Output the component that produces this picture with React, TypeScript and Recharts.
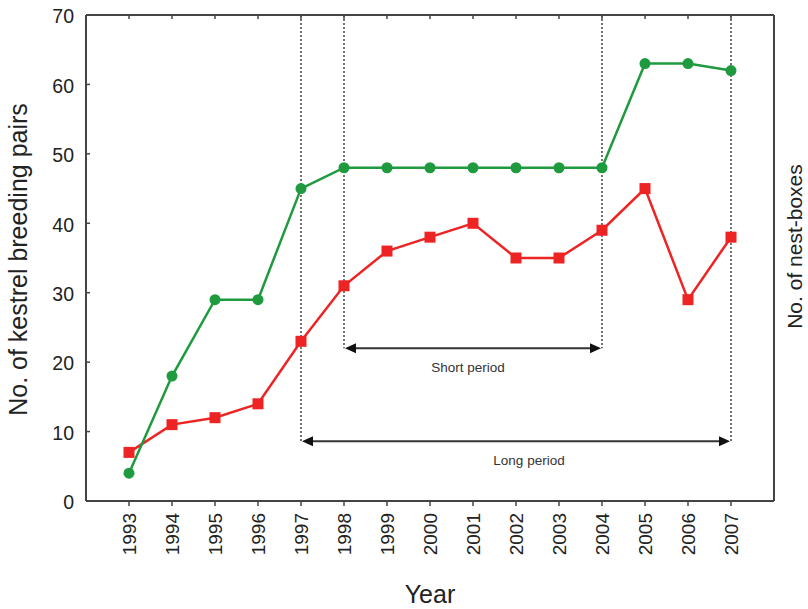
import React from 'react';
import { LineChart, Line, XAxis, YAxis, ReferenceLine } from 'recharts';

const years = [1993, 1994, 1995, 1996, 1997, 1998, 1999, 2000, 2001, 2002, 2003, 2004, 2005, 2006, 2007];
const nestBoxes = [4, 18, 29, 29, 45, 48, 48, 48, 48, 48, 48, 48, 63, 63, 62];
const breedingPairs = [7, 11, 12, 14, 23, 31, 36, 38, 40, 35, 35, 39, 45, 29, 38];
const yTicks = [0, 10, 20, 30, 40, 50, 60, 70];
const xDomain = [1992, 2008];
const yDomain = [0, 70];

const periods = [
  { name: 'Short period', from: 1998, to: 2004, level: 22.0 },
  { name: 'Long period', from: 1997, to: 2007, level: 8.6 },
];

const labelShift: Record<string, number> = { 'Short period': -5, 'Long period': 13 };

const data = years.map((y, i) => ({ year: y, nest: nestBoxes[i], pairs: breedingPairs[i] }));

const FONT = 'Liberation Sans, Arial, Helvetica, sans-serif';
const AXIS = '#444';
const TXT = '#222';
const GREEN = '#1f9a3e';
const RED = '#ee2424';

const LeftTick = (p: any) => (
  <g>
    <line x1={p.x} y1={p.y} x2={p.x + 4} y2={p.y} stroke={AXIS} strokeWidth={1.5} />
    <text x={p.x - 12} y={p.y + 1.5} dy="0.35em" textAnchor="end" fontSize={19.5} fill={TXT} fontFamily={FONT}>
      {p.payload.value}
    </text>
  </g>
);

const RightTick = (p: any) => (
  <line x1={p.x} y1={p.y} x2={p.x - 4} y2={p.y} stroke={AXIS} strokeWidth={1.5} />
);

const TopTick = (p: any) => (
  <line x1={p.x} y1={p.y} x2={p.x} y2={p.y + 4} stroke={AXIS} strokeWidth={1.5} />
);

const BottomTick = (p: any) => (
  <text
    x={p.x}
    y={p.y}
    transform={`rotate(-90 ${p.x} ${p.y})`}
    textAnchor="end"
    dy="0.35em"
    fontSize={19}
    fill={TXT}
    fontFamily={FONT}
  >
    {p.payload.value}
  </text>
);

const Square = (p: any) => (
  <rect key={`sq-${p.index}`} x={p.cx - 5.5} y={p.cy - 5.5} width={11} height={11} fill={RED} />
);

const makeArrow = (name: string) => (p: any) => {
  const { x1, x2, y1 } = p;
  const left = Math.min(x1, x2) + 1;
  const right = Math.max(x1, x2) - 1;
  const y = y1;
  return (
    <g>
      <line x1={left + 8} y1={y} x2={right - 8} y2={y} stroke="#333" strokeWidth={2} />
      <polygon points={`${left},${y} ${left + 11},${y - 5} ${left + 11},${y + 5}`} fill="#111" />
      <polygon points={`${right},${y} ${right - 11},${y - 5} ${right - 11},${y + 5}`} fill="#111" />
      <text
        x={(left + right) / 2 + (labelShift[name] || 0)}
        y={y + 24}
        textAnchor="middle"
        fontSize={13.5}
        fill="#333"
        fontFamily={FONT}
      >
        {name}
      </text>
    </g>
  );
};

const LeftTitle = () => (
  <text x={27} y={259.5} transform="rotate(-90 27 259.5)" textAnchor="middle" fontSize={25} fill={TXT} fontFamily={FONT}>
    No. of kestrel breeding pairs
  </text>
);

const RightTitle = () => (
  <text x={802} y={246.5} transform="rotate(-90 802 246.5)" textAnchor="middle" fontSize={21} fill={TXT} fontFamily={FONT}>
    No. of nest-boxes
  </text>
);

const BottomTitle = () => (
  <text x={430} y={603} textAnchor="middle" fontSize={25} fill={TXT} fontFamily={FONT}>
    Year
  </text>
);

export default function App() {
  const guides = periods.flatMap((p) => [
    { x: p.from, level: p.level },
    { x: p.to, level: p.level },
  ]);
  return (
    <div style={{ position: 'absolute', left: 0, top: 0, width: 808, height: 609, background: '#fff' }}>
      <LineChart width={808} height={609} data={data} margin={{ top: 14, right: 0, bottom: 0, left: 0 }}>
        <XAxis
          xAxisId="t"
          orientation="top"
          dataKey="year"
          type="number"
          domain={xDomain}
          ticks={years}
          interval={0}
          height={1}
          tickSize={0}
          tickMargin={0}
          tickLine={false}
          tick={TopTick}
          axisLine={{ stroke: AXIS, strokeWidth: 2 }}
        />
        <XAxis
          xAxisId="b"
          dataKey="year"
          type="number"
          domain={xDomain}
          ticks={years}
          interval={0}
          height={108}
          tickSize={5}
          tickMargin={7}
          tickLine={{ stroke: AXIS, strokeWidth: 1.5 }}
          tick={BottomTick}
          axisLine={{ stroke: AXIS, strokeWidth: 2 }}
          label={BottomTitle}
        />
        <YAxis
          yAxisId="l"
          domain={yDomain}
          ticks={yTicks}
          interval={0}
          width={86}
          tickSize={0}
          tickMargin={0}
          tickLine={false}
          tick={LeftTick}
          axisLine={{ stroke: AXIS, strokeWidth: 2 }}
          label={LeftTitle}
        />
        <YAxis
          yAxisId="r"
          orientation="right"
          domain={yDomain}
          ticks={yTicks}
          interval={0}
          width={34}
          tickSize={0}
          tickMargin={0}
          tickLine={false}
          tick={RightTick}
          axisLine={{ stroke: AXIS, strokeWidth: 2 }}
          label={RightTitle}
        />
        <Line
          xAxisId="b"
          yAxisId="l"
          dataKey="pairs"
          stroke={RED}
          strokeWidth={2.5}
          dot={Square}
          isAnimationActive={false}
        />
        <Line
          xAxisId="b"
          yAxisId="l"
          dataKey="nest"
          stroke={GREEN}
          strokeWidth={2.5}
          dot={{ r: 5.5, fill: GREEN, stroke: GREEN, strokeWidth: 0 }}
          isAnimationActive={false}
        />
        {guides.map((g, i) => (
          <ReferenceLine
            key={`g${i}`}
            xAxisId="b"
            yAxisId="l"
            segment={[
              { x: g.x, y: 70 },
              { x: g.x, y: g.level },
            ]}
            stroke="#444"
            strokeWidth={1.5}
            strokeDasharray="2 2"
          />
        ))}
        {periods.map((p) => (
          <ReferenceLine
            key={p.name}
            xAxisId="b"
            yAxisId="l"
            segment={[
              { x: p.from, y: p.level },
              { x: p.to, y: p.level },
            ]}
            shape={makeArrow(p.name)}
          />
        ))}
      </LineChart>
    </div>
  );
}
